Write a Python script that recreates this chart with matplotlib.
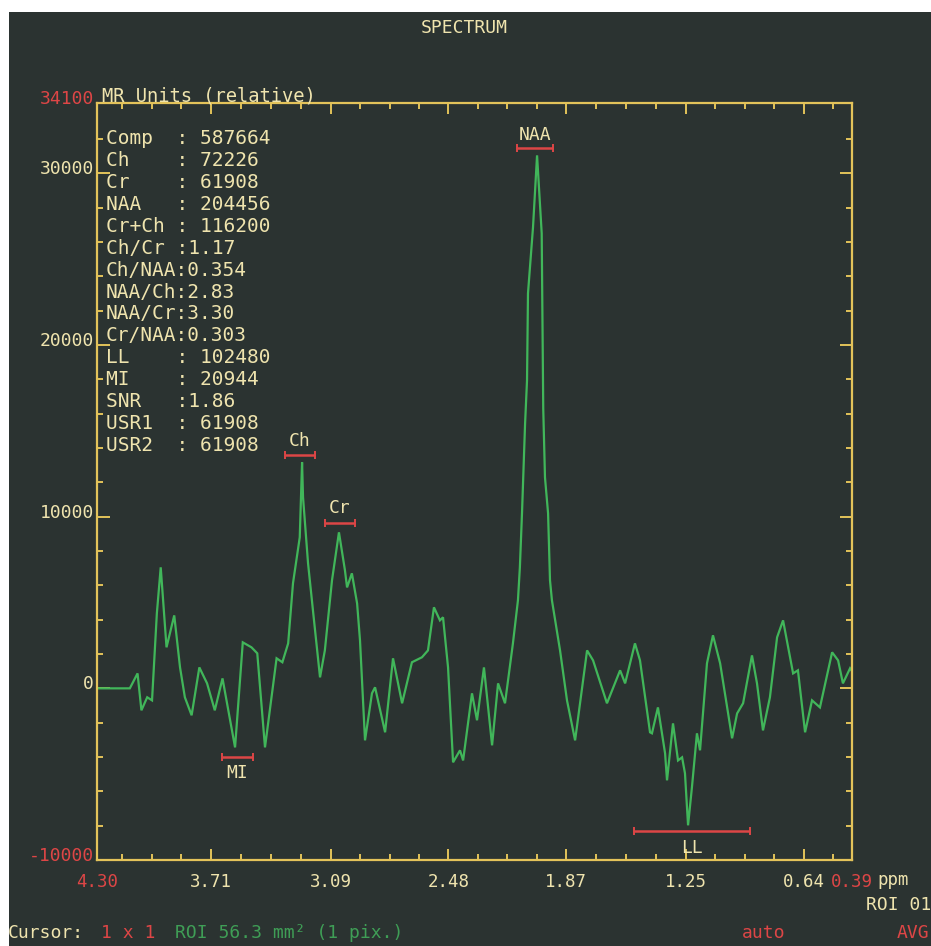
import numpy as np
import matplotlib
matplotlib.use("Agg")
import matplotlib.pyplot as plt
import matplotlib.transforms as mtransforms
from matplotlib.patches import Rectangle

# ---------------- data ----------------
ppm = [4.30, 4.13, 4.09, 4.07, 4.04, 4.015, 3.99, 3.97, 3.94, 3.90, 3.87, 3.845, 3.81,
       3.77, 3.73, 3.69, 3.65, 3.585, 3.545, 3.50, 3.47, 3.43, 3.37, 3.34, 3.31, 3.285,
       3.25, 3.238, 3.233, 3.207, 3.18, 3.145, 3.12, 3.083, 3.047, 3.016, 3.005, 2.98,
       2.953, 2.938, 2.912, 2.876, 2.86, 2.808, 2.767, 2.72, 2.669, 2.617, 2.586, 2.555,
       2.524, 2.508, 2.482, 2.456, 2.42, 2.404, 2.358, 2.332, 2.296, 2.254, 2.223, 2.187,
       2.146, 2.12, 2.11, 2.099, 2.083, 2.073, 2.068, 2.042, 2.021, 1.997, 1.989, 1.980,
       1.964, 1.954, 1.944, 1.902, 1.866, 1.824, 1.762, 1.731, 1.659, 1.591, 1.565, 1.514,
       1.488, 1.436, 1.426, 1.395, 1.358, 1.348, 1.317, 1.291, 1.27, 1.255, 1.239, 1.219,
       1.193, 1.177, 1.141, 1.11, 1.073, 1.011, 0.985, 0.954, 0.908, 0.882, 0.851, 0.815,
       0.778, 0.747, 0.695, 0.67, 0.633, 0.597, 0.556, 0.493, 0.462, 0.437, 0.40, 0.39]
signal = [0, 0, 870, -1280, -520, -700, 4370, 7050, 2390, 4250, 1220, -520, -1570,
          1220, 290, -1280, 580, -3440, 2680, 2390, 2040, -3440, 1750, 1520, 2620, 6120,
          8800, 13170, 11130, 7280, 4370, 640, 2210, 6290, 9090, 6880, 5880, 6700,
          4950, 2800, -3030, -290, 60, -2560, 1750, -870, 1520, 1810, 2210, 4720,
          3960, 4140, 1220, -4310, -3610, -4200, -290, -1860, 1220, -3320, 290, -870,
          2620, 5130, 7050, 10200, 15440, 17940, 23010, 26860, 31050, 26510, 16300, 12290,
          10200, 6290, 5130, 2210, -700, -3030, 2210, 1630, -870, 1050, 290, 2620,
          1630, -2560, -2620, -1110, -3790, -5360, -2040, -4200, -4020, -4950, -7980, -5770,
          -2620, -3610, 1460, 3090, 1460, -2910, -1460, -870, 1920, 290, -2450, -520,
          2970, 3960, 870, 1050, -2560, -700, -1110, 2100, 1630, 290, 1170, 1000]

# peak markers: name, centre (ppm), half width (ppm), bar level, label level
peak_names = ["NAA", "Ch", "Cr", "MI", "LL"]
peak_centre = [2.032, 3.249, 3.042, 3.572, 1.219]
peak_halfw = [0.093, 0.078, 0.078, 0.080, 0.300]
peak_bar_y = [31460, 13575, 9613, -4020, -8331]
peak_label_y = [32250, 14400, 10480, -4950, -9320]

# statistics panel
stat_names = ["Comp", "Ch", "Cr", "NAA", "Cr+Ch", "Ch/Cr", "Ch/NAA", "NAA/Ch",
              "NAA/Cr", "Cr/NAA", "LL", "MI", "SNR", "USR1", "USR2"]
stat_values = [" 587664", " 72226", " 61908", " 204456", " 116200", "1.17", "0.354",
               "2.83", "3.30", "0.303", " 102480", " 20944", "1.86", " 61908", " 61908"]

x_major = [4.30, 3.71, 3.09, 2.48, 1.87, 1.25, 0.64, 0.39]
x_major_labels = ["4.30", "3.71", "3.09", "2.48", "1.87", "1.25", "0.64", "0.39"]
y_major = [-10000, 0, 10000, 20000, 30000, 34100]
y_major_labels = ["-10000", "0", "10000", "20000", "30000", "34100"]

# ---------------- style ----------------
BG = "#2b3331"
CREAM = "#efe4ae"
YEL = "#e3c35a"
RED = "#dd4646"
GREEN = "#41b65a"
GTEXT = "#3f9e56"
MONO = "DejaVu Sans Mono"

W, H = 931, 946
fig = plt.figure(figsize=(W / 100, H / 100), dpi=100, facecolor=BG)

def fx(px):
    return px / W

def fy(py):
    return 1 - py / H

L, R, T, B = 97, 852, 103, 860
ax = fig.add_axes([fx(L), fy(B), (R - L) / W, (B - T) / H])
ax.set_facecolor(BG)

ax.plot(ppm, signal, color=GREEN, lw=1.6, solid_joinstyle="miter")

ax.set_xlim(4.30, 0.39)
ax.set_ylim(-10000, 34100)

for s in ax.spines.values():
    s.set_color(YEL)
    s.set_linewidth(1.6)

# x ticks
ax.set_xticks(x_major, x_major_labels)
majors_inner = [3.71, 3.09, 2.48, 1.87, 1.25, 0.64]
minors = []
for a, b in zip(majors_inner[:-1], majors_inner[1:]):
    minors += list(np.linspace(a, b, 5)[1:-1])
st = (3.71 - 0.64) / 20
minors += [3.71 + st * k for k in (1, 2, 3)] + [0.64 - st]
ax.set_xticks(minors, minor=True)
ax.tick_params(axis="x", which="both", direction="in", top=True, bottom=True,
               colors=YEL, labelcolor=CREAM, labelsize=12.5, pad=9)
ax.tick_params(axis="x", which="major", length=8, width=1.4)
ax.tick_params(axis="x", which="minor", length=4, width=1.4)
xl = ax.get_xticklabels()
for lab in xl:
    lab.set_fontfamily(MONO)
xl[0].set_color(RED)
xl[-1].set_color(RED)

# y ticks
ax.set_yticks(y_major, y_major_labels)
ax.set_yticks(np.arange(-8000, 34000, 2000), minor=True)
ax.tick_params(axis="y", which="both", direction="in", left=True, right=True,
               colors=YEL, labelcolor=CREAM, labelsize=13, pad=2)
ax.tick_params(axis="y", which="major", length=9, width=1.4)
ax.tick_params(axis="y", which="minor", length=4, width=1.4)
off = mtransforms.ScaledTranslation(0, 6 / 100, fig.dpi_scale_trans)
yl = ax.get_yticklabels()
for lab in yl:
    lab.set_fontfamily(MONO)
    lab.set_transform(lab.get_transform() + off)
yl[0].set_color(RED)
yl[-1].set_color(RED)

# peak markers
for name, c, hw, yb, yt in zip(peak_names, peak_centre, peak_halfw, peak_bar_y, peak_label_y):
    ax.errorbar([c], [yb], xerr=[hw], fmt="none", ecolor=RED, elinewidth=1.8,
                capsize=3, capthick=1.4)
    ax.text(c, yt, name, color=CREAM, fontsize=13, family=MONO,
            ha="center", va="center")

# statistics panel
for i, (n, v) in enumerate(zip(stat_names, stat_values)):
    ypx = 139 + i * 21.86
    ax.text(0.012, (B - ypx) / (B - T), f"{n:<6}:{v}", transform=ax.transAxes,
            color=CREAM, fontsize=14, family=MONO, ha="left", va="center")

# headline texts
fig.text(fx(464), fy(28), "SPECTRUM", color=CREAM, fontsize=13, family=MONO,
         ha="center", va="center")
fig.text(fx(102), fy(96), "MR Units (relative)", color=CREAM, fontsize=13.5,
         family=MONO, ha="left", va="center")
fig.text(fx(877), fy(880), "ppm", color=CREAM, fontsize=12.5, family=MONO,
         ha="left", va="center")
fig.text(fx(931), fy(905), "ROI 01", color=CREAM, fontsize=13, family=MONO,
         ha="right", va="center")

# status line
fig.text(fx(8), fy(933), "Cursor:", color=CREAM, fontsize=13, family=MONO,
         ha="left", va="center")
fig.text(fx(101), fy(933), "1 x 1", color=RED, fontsize=13, family=MONO,
         ha="left", va="center")
fig.text(fx(175), fy(933), "ROI 56.3 mm² (1 pix.)", color=GTEXT, fontsize=13,
         family=MONO, ha="left", va="center")
fig.text(fx(742), fy(933), "auto", color=RED, fontsize=13, family=MONO,
         ha="left", va="center")
fig.text(fx(897), fy(933), "AVG", color=RED, fontsize=13, family=MONO,
         ha="left", va="center")

# white scan border (top and left)
fig.patches.append(Rectangle((0, fy(12)), 1, 12 / H, transform=fig.transFigure,
                             facecolor="white", edgecolor="none", zorder=10))
fig.patches.append(Rectangle((0, 0), 9 / W, 1, transform=fig.transFigure,
                             facecolor="white", edgecolor="none", zorder=10))

fig.savefig("out.png", dpi=100, facecolor=BG)
